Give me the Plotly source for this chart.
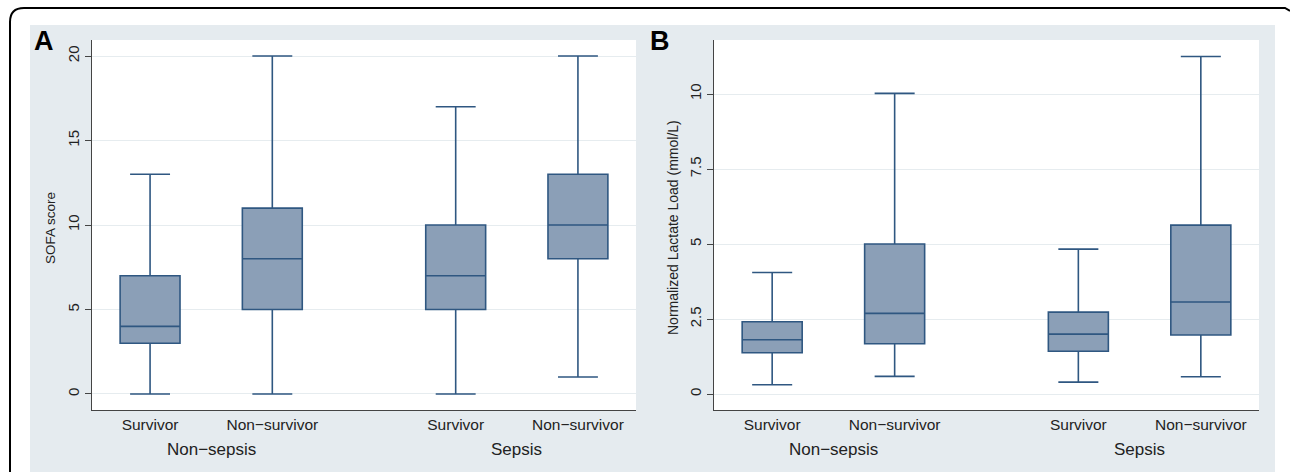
import plotly.graph_objects as go

# ---------------- data ----------------
groups = ["Non\u2212sepsis", "Sepsis"]
outcomes = ["Survivor", "Non\u2212survivor"]

sofa_lower = [0, 0, 0, 1]
sofa_q1 = [3, 5, 5, 8]
sofa_median = [4, 8, 7, 10]
sofa_q3 = [7, 11, 10, 13]
sofa_upper = [13, 20, 17, 20]
sofa_ticks = [0, 5, 10, 15, 20]

lact_lower = [0.31, 0.59, 0.40, 0.58]
lact_q1 = [1.38, 1.68, 1.43, 1.97]
lact_median = [1.81, 2.69, 2.00, 3.07]
lact_q3 = [2.41, 5.00, 2.73, 5.63]
lact_upper = [4.05, 10.02, 4.83, 11.25]
lact_ticks = [0, 2.5, 5, 7.5, 10]
lact_ticktext = ["0", "2.5", "5", "7.5", "10"]

# ---------------- layout helpers ----------------
W, H = 1290, 472
GROUP_STEP = 2.5  # distance between first boxes of consecutive groups
pos = []
labels = []
for gi, g in enumerate(groups):
    for oi, o in enumerate(outcomes):
        pos.append(1 + gi * GROUP_STEP + oi)
        labels.append(o)
group_centers = [1 + gi * GROUP_STEP + (len(outcomes) - 1) / 2 for gi in range(len(groups))]

def px(x):
    return x / W

def py(y):
    return 1 - y / H

FONT = "Liberation Sans, Arial, Helvetica, sans-serif"
FILL = "#8b9fb7"
LINE = "#2f5781"
BG = "#e5ebef"
GRID = "#e6ecef"
AXIS = "#444444"

fig = go.Figure()

fig.add_trace(go.Box(
    x=pos, q1=sofa_q1, median=sofa_median, q3=sofa_q3,
    lowerfence=sofa_lower, upperfence=sofa_upper,
    width=0.49, whiskerwidth=0.667, boxpoints=False,
    fillcolor=FILL, line=dict(color=LINE, width=1.6),
    xaxis="x", yaxis="y", showlegend=False, hoverinfo="skip"))

fig.add_trace(go.Box(
    x=pos, q1=lact_q1, median=lact_median, q3=lact_q3,
    lowerfence=lact_lower, upperfence=lact_upper,
    width=0.49, whiskerwidth=0.667, boxpoints=False,
    fillcolor=FILL, line=dict(color=LINE, width=1.6),
    xaxis="x2", yaxis="y2", showlegend=False, hoverinfo="skip"))

xr = [0.525, 4.975]
common_x = dict(range=xr, tickvals=pos, ticktext=labels, ticks="", tickangle=0,
                showline=True, linecolor=AXIS, linewidth=1.3,
                showgrid=False, zeroline=False,
                tickfont=dict(family=FONT, size=15.5, color="#222"))
common_y = dict(tickangle=-90, ticks="outside", ticklen=6, tickcolor=AXIS,
                tickwidth=1.2, showline=True, linecolor=AXIS, linewidth=1.3,
                showgrid=True, gridcolor=GRID, gridwidth=1.2, zeroline=False,
                tickfont=dict(family=FONT, size=15, color="#222"))

ydom = [py(410), py(40)]

fig.update_layout(
    width=W, height=H,
    margin=dict(l=0, r=0, t=0, b=0),
    paper_bgcolor="white",
    plot_bgcolor="white",
    font=dict(family=FONT, color="#222"),
    xaxis=dict(domain=[px(92), px(636)], anchor="y", **common_x),
    yaxis=dict(domain=ydom, anchor="x", range=[-0.95, 20.95],
               tickvals=sofa_ticks, **common_y),
    xaxis2=dict(domain=[px(714), px(1259)], anchor="y2", **common_x),
    yaxis2=dict(domain=ydom, anchor="x2", range=[-0.53, 11.8],
                tickvals=lact_ticks, ticktext=lact_ticktext, **common_y),
)

shapes = [
    dict(type="rect", xref="paper", yref="paper", x0=px(30), x1=px(1275),
         y0=py(472), y1=py(25), fillcolor=BG, line=dict(width=0), layer="below"),
    dict(type="rect", xref="paper", yref="paper", x0=px(92), x1=px(636),
         y0=py(410), y1=py(40), fillcolor="white", line=dict(width=0), layer="below"),
    dict(type="rect", xref="paper", yref="paper", x0=px(714), x1=px(1259),
         y0=py(410), y1=py(40), fillcolor="white", line=dict(width=0), layer="below"),
    dict(type="path", xref="paper", yref="paper",
         path=(f"M {px(10)},{py(480)} L {px(10)},{py(22)} "
               f"Q {px(10)},{py(8)} {px(24)},{py(8)} "
               f"L {px(1285)},{py(8)} L {px(1290)},{py(11)}"),
         line=dict(color="black", width=2)),
]
fig.update_layout(shapes=shapes)

ann = []
ann.append(dict(text="<b>A</b>", xref="paper", yref="paper", x=px(32), y=py(24),
                xanchor="left", yanchor="top", showarrow=False,
                font=dict(family=FONT, size=27, color="black")))
ann.append(dict(text="<b>B</b>", xref="paper", yref="paper", x=px(648), y=py(24),
                xanchor="left", yanchor="top", showarrow=False,
                font=dict(family=FONT, size=27, color="black")))
ann.append(dict(text="SOFA score", xref="paper", yref="paper", x=px(50), y=py(228),
                textangle=-90, showarrow=False, xanchor="center", yanchor="middle",
                font=dict(family=FONT, size=13.5, color="#222")))
ann.append(dict(text="Normalized Lactate Load (mmol/L)", xref="paper", yref="paper",
                x=px(673), y=py(228), textangle=-90, showarrow=False,
                xanchor="center", yanchor="middle",
                font=dict(family=FONT, size=14, color="#222")))
for xa in ["x", "x2"]:
    for g, c in zip(groups, group_centers):
        ann.append(dict(text=g, xref=xa, yref="paper", x=c, y=py(449),
                        showarrow=False, xanchor="center", yanchor="middle",
                        font=dict(family=FONT, size=17, color="#222")))
fig.update_layout(annotations=ann)

fig.write_html("out.html", config={"displayModeBar": False},
               post_script="document.body.style.margin='0';")
